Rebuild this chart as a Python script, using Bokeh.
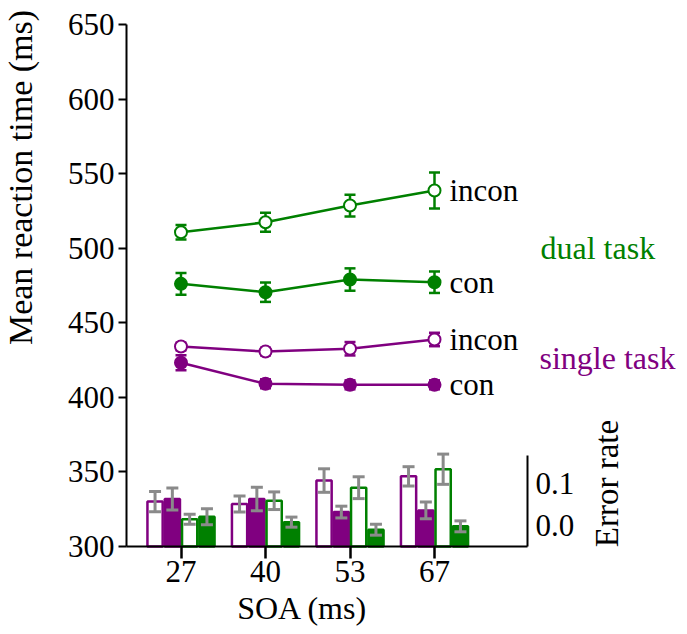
import math
from bokeh.plotting import figure
from bokeh.models import Range1d, FixedTicker, ColumnDataSource, LinearAxis
from bokeh.core.properties import value
from bokeh.embed import file_html
from bokeh.resources import INLINE

# ---------------- data ----------------
soa_labels = ["27", "40", "53", "67"]
soa_pos = [0, 1, 2, 3]

# mean reaction time (ms) and error bars
rt_dual_incon = [510.7, 517.4, 528.6, 538.7]
se_dual_incon = [4.9, 6.4, 7.3, 12.0]
rt_dual_con = [476.1, 470.5, 479.0, 477.2]
se_dual_con = [7.3, 6.5, 7.5, 7.2]
rt_single_incon = [434.1, 430.7, 432.6, 438.8]
se_single_incon = [2.5, 2.5, 4.5, 4.5]
rt_single_con = [423.2, 409.1, 408.4, 408.4]
se_single_con = [5.0, 3.0, 3.0, 3.0]

# error rates and error bars
er_single_incon = [0.107, 0.101, 0.157, 0.167]
ee_single_incon = [0.024, 0.019, 0.028, 0.023]
er_single_con = [0.113, 0.113, 0.082, 0.086]
ee_single_con = [0.026, 0.028, 0.014, 0.020]
er_dual_incon = [0.065, 0.109, 0.140, 0.184]
ee_dual_incon = [0.012, 0.021, 0.026, 0.036]
er_dual_con = [0.071, 0.058, 0.040, 0.048]
ee_dual_con = [0.019, 0.012, 0.013, 0.013]

rt_ticks = [300, 350, 400, 450, 500, 550, 600, 650]
rt_min, rt_max = 300, 650
err_ticks = [0.0, 0.1]
err_tick_labels = ["0.0", "0.1"]
err_axis_max = 0.217

# ---------------- layout (pixel geometry of the plotting area) ----------------
W, H = 685, 628
AX_L, AX_T, AX_B = 126, 24, 546      # left axis x, top (650) and bottom (300) y
ERR_AXIS_PX = 527
GROUP_PX = 84.5
FIRST_PX = 180.5
ERR_PX_PER_UNIT = 420.0
RT_PX_PER_MS = (AX_B - AX_T) / (rt_max - rt_min)

def x_at(px):
    return (px - FIRST_PX) / GROUP_PX

def y_at(py):
    return rt_min + (AX_B - py) / RT_PX_PER_MS

def e_at(py):
    return (AX_B - py) / ERR_PX_PER_UNIT

PURPLE = "#800080"
GREEN = "#008000"
GRAY = "#8a8a8a"
FONT = "Liberation Serif"

p = figure(width=W, height=H, output_backend="svg", toolbar_location=None,
           x_range=Range1d(x_at(0), x_at(W)),
           y_range=Range1d(y_at(H), y_at(0)),
           min_border=0, min_border_left=0, min_border_right=0,
           min_border_top=0, min_border_bottom=0)
p.outline_line_color = None
p.xgrid.visible = False
p.ygrid.visible = False
p.background_fill_color = "white"
p.border_fill_color = "white"
p.extra_y_ranges = {"err": Range1d(e_at(H), e_at(0))}

# left axis, fixed at the left edge of the data area
ya = p.yaxis[0]
ya.fixed_location = x_at(AX_L)
ya.bounds = (rt_min, rt_max)
ya.ticker = FixedTicker(ticks=rt_ticks)
ya.major_tick_out = 8
ya.major_tick_in = 0
ya.minor_tick_line_color = None
ya.axis_line_width = 2
ya.major_tick_line_width = 2
ya.major_label_text_font = FONT
ya.major_label_text_font_size = "31px"
ya.major_label_text_color = "black"
ya.major_label_standoff = 4

# bottom axis, fixed at RT = 300
xa = p.xaxis[0]
xa.fixed_location = rt_min
xa.ticker = FixedTicker(ticks=soa_pos)
xa.major_label_overrides = {i: s for i, s in zip(soa_pos, soa_labels)}
xa.bounds = (x_at(AX_L), x_at(ERR_AXIS_PX))
xa.major_tick_out = 12
xa.major_tick_in = 0
xa.minor_tick_line_color = None
xa.axis_line_width = 2
xa.major_tick_line_width = 2.5
xa.major_label_text_font = FONT
xa.major_label_text_font_size = "31px"
xa.major_label_text_color = "black"
xa.major_label_standoff = 2

# right axis for the error rates
ra = LinearAxis(y_range_name="err", fixed_location=x_at(ERR_AXIS_PX),
                bounds=(0, err_axis_max), ticker=FixedTicker(ticks=[]))
ra.axis_line_width = 2
ra.major_tick_line_color = None
ra.minor_tick_line_color = None
p.add_layout(ra, "right")

# axis titles and error-rate tick labels
p.text(x=[x_at(20)], y=[y_at(177)], text=["Mean reaction time (ms)"], angle=math.pi / 2,
       text_align="center", text_baseline="middle",
       text_font=value(FONT), text_font_size="34px", text_color="black")
p.text(x=[x_at(302)], y=[y_at(607)], text=["SOA (ms)"],
       text_align="center", text_baseline="alphabetic",
       text_font=value(FONT), text_font_size="32px", text_color="black")
p.text(x=[x_at(ERR_AXIS_PX + 8)] * len(err_ticks), y=err_ticks, text=err_tick_labels,
       y_range_name="err", y_offset=-21, text_align="left", text_baseline="middle",
       text_font=value(FONT), text_font_size="31px", text_color="black")
p.text(x=[x_at(606)], y=[y_at(483)], text=["Error rate"], angle=math.pi / 2,
       text_align="center", text_baseline="middle",
       text_font=value(FONT), text_font_size="33px", text_color="black")

# ---------------- error-rate bars ----------------
bw = 17.3 / GROUP_PX
bar_series = [
    (er_single_incon, ee_single_incon, PURPLE, "white", -1.5),
    (er_single_con, ee_single_con, PURPLE, PURPLE, -0.5),
    (er_dual_incon, ee_dual_incon, GREEN, "white", 0.5),
    (er_dual_con, ee_dual_con, GREEN, GREEN, 1.5),
]
for vals, errs, lc, fc, k in bar_series:
    xs = [x + k * bw for x in soa_pos]
    src = ColumnDataSource(dict(x=xs, top=vals,
                                lo=[v - e for v, e in zip(vals, errs)],
                                hi=[v + e for v, e in zip(vals, errs)]))
    p.vbar(x="x", top="top", bottom=0, width=bw * 0.88, source=src, y_range_name="err",
           fill_color=fc, line_color=lc, line_width=2.5)
    p.segment(x0="x", y0="lo", x1="x", y1="hi", source=src, y_range_name="err",
              line_color=GRAY, line_width=3)
    p.scatter(x="x", y="lo", source=src, y_range_name="err", marker="dash",
              size=12, line_color=GRAY, line_width=3)
    p.scatter(x="x", y="hi", source=src, y_range_name="err", marker="dash",
              size=12, line_color=GRAY, line_width=3)

# ---------------- RT lines ----------------
line_series = [
    (rt_dual_incon, se_dual_incon, GREEN, False, "incon"),
    (rt_dual_con, se_dual_con, GREEN, True, "con"),
    (rt_single_incon, se_single_incon, PURPLE, False, "incon"),
    (rt_single_con, se_single_con, PURPLE, True, "con"),
]
for vals, errs, col, filled, lab in line_series:
    src = ColumnDataSource(dict(x=soa_pos, y=vals,
                                lo=[v - e for v, e in zip(vals, errs)],
                                hi=[v + e for v, e in zip(vals, errs)]))
    p.line(x="x", y="y", source=src, line_color=col, line_width=2.5)
    p.segment(x0="x", y0="lo", x1="x", y1="hi", source=src, line_color=col, line_width=2.5)
    p.scatter(x="x", y="lo", source=src, marker="dash", size=11, line_color=col, line_width=2.5)
    p.scatter(x="x", y="hi", source=src, marker="dash", size=11, line_color=col, line_width=2.5)
    p.scatter(x="x", y="y", source=src, marker="circle", size=12,
              fill_color=col if filled else "white", line_color=col, line_width=2)
    p.text(x=[soa_pos[-1]], y=[vals[-1]], text=[lab], x_offset=15, y_offset=0,
           text_font=value(FONT), text_font_size="31px", text_color="black",
           text_baseline="middle", text_align="left")

# ---------------- group labels ----------------
p.text(x=[x_at(540)], y=[y_at(247)], text=["dual task"], text_align="left",
       text_baseline="alphabetic", text_font=value(FONT), text_font_size="32px",
       text_color=GREEN)
p.text(x=[x_at(539)], y=[y_at(357)], text=["single task"], text_align="left",
       text_baseline="alphabetic", text_font=value(FONT), text_font_size="32px",
       text_color=PURPLE)

open("out.html", "w").write(file_html(p, INLINE))
